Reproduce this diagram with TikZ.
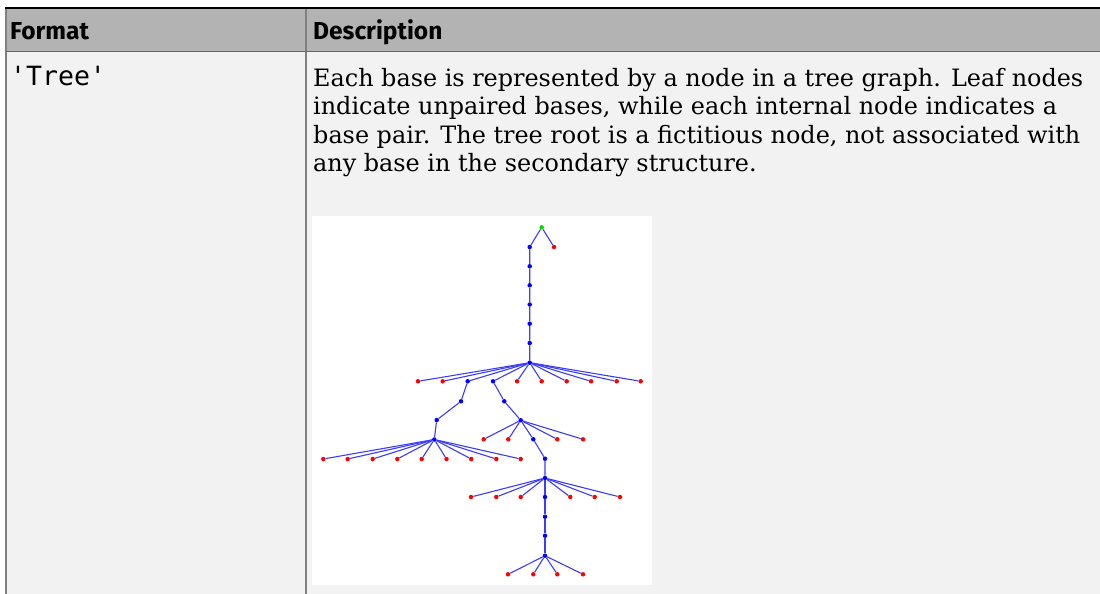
\documentclass[tikz,border=0pt]{standalone}
\usepackage{fontspec}
\setmainfont{DejaVu Serif}
\setsansfont{Fira Sans}
\setmonofont{DejaVu Sans Mono}
\usetikzlibrary{positioning}
\definecolor{hdrgray}{RGB}{179,179,179}
\definecolor{bodygray}{RGB}{242,242,242}
\definecolor{rulegray}{RGB}{128,128,128}
\definecolor{treeblue}{RGB}{60,60,255}
\definecolor{ptgreen}{RGB}{0,220,0}

\begin{document}
\begin{tikzpicture}[x=1pt, y=-1pt,
  leaf/.style={circle, fill=red, inner sep=0pt, minimum size=4.5pt},
  pair/.style={circle, fill=blue, inner sep=0pt, minimum size=4.5pt},
  rootpt/.style={circle, fill=ptgreen, inner sep=0pt, minimum size=4.5pt},
  br/.style={treeblue, line width=1.1pt},
  hdr/.style={anchor=base west, inner sep=0pt, font=\sffamily\bfseries\fontsize{24.5}{24.5}\selectfont},
  txt/.style={anchor=base west, inner sep=0pt, font=\fontsize{23.9}{28}\selectfont}
]
\useasboundingbox (0,0) rectangle (1100,594);

% Table background and rules
\fill[white] (0,0) rectangle (1100,594);
\fill[hdrgray] (6,8) rectangle (1100,52);
\fill[bodygray] (6,52) rectangle (1100,594);
\fill[white] (312,216) rectangle (652,585);
\draw[rulegray, line width=1.5pt] (6,8) -- (6,594);
\draw[rulegray, line width=2pt] (306,8) -- (306,594);
\draw[black!60, line width=1pt] (6,52) -- (1100,52);
\draw[black, line width=1.8pt] (5,8) -- (1100,8);

% Header and text
\node[hdr] (fmt) at (10,40) {Format};
\node[hdr] (dsc) at (313,40) {Description};
\node[anchor=base west, inner sep=0pt, font=\ttfamily\fontsize{26.5}{26.5}\selectfont] (tree) at (10,85) {'Tree'};
\node[txt] (l1) at (313,86) {Each base is represented by a node in a tree graph. Leaf nodes};
\node[txt] (l2) at (313,114.5) {indicate unpaired bases, while each internal node indicates a};
\node[txt] (l3) at (313,143) {base pair. The tree root is a fictitious node, not associated with};
\node[txt] (l4) at (313,171.5) {any base in the secondary structure.};

% Tree: root and stem
\node[rootpt] (rt) at (541.7,227.3) {};
\node[leaf] (rt2) at (554,247) {};
\foreach \i/\y in {1/247,2/266.3,3/285.3,4/304.5,5/323.7,6/343}
  \node[pair] (s\i) at (529.7,\y) {};
\node[pair] (h1) at (529.7,362.7) {};

% first fan
\foreach \i/\x/\s in {1/418/leaf,2/442.7/leaf,3/467.7/pair,4/493/pair,5/517/leaf,
    6/541.7/leaf,7/566.7/leaf,8/591/leaf,9/616.7/leaf,10/640.7/leaf}
  \node[\s] (a\i) at (\x,381.3) {};

% left branch
\node[pair] (b1) at (461,401.3) {};
\node[pair] (b2) at (436.7,420) {};
\node[pair] (h2) at (434.3,439.5) {};
\foreach \i/\x in {1/323.3,2/347.7,3/372.7,4/397.3,5/421.7,6/446.5,7/471.2,8/496.3,9/520.7}
  \node[leaf] (c\i) at (\x,459) {};

% right branch
\node[pair] (d1) at (504.3,401.3) {};
\node[pair] (h3) at (520.7,420.3) {};
\foreach \i/\x/\s in {1/483.7/leaf,2/508.3/leaf,3/533.3/pair,4/557.3/leaf,5/583/leaf}
  \node[\s] (e\i) at (\x,439.3) {};
\node[pair] (f1) at (545,458.7) {};
\node[pair] (h4) at (545,478) {};
\foreach \i/\x/\s in {1/471/leaf,2/496.3/leaf,3/520.7/leaf,4/545/pair,5/570.3/leaf,6/594.7/leaf,7/620/leaf}
  \node[\s] (g\i) at (\x,497) {};
\node[pair] (k1) at (545,516.7) {};
\node[pair] (k2) at (545,535.7) {};
\node[pair] (h5) at (545,555.7) {};
\foreach \i/\x in {1/508,2/533.3,3/557.3,4/583}
  \node[leaf] (m\i) at (\x,574.3) {};

% Branches
\draw[br] (rt) -- (rt2);
\draw[br] (rt) -- (s1) -- (s2) -- (s3) -- (s4) -- (s5) -- (s6) -- (h1);
\foreach \i in {1,...,10} \draw[br] (h1) -- (a\i);
\draw[br] (a3) -- (b1) -- (b2) -- (h2);
\foreach \i in {1,...,9} \draw[br] (h2) -- (c\i);
\draw[br] (a4) -- (d1) -- (h3);
\foreach \i in {1,...,5} \draw[br] (h3) -- (e\i);
\draw[br] (e3) -- (f1) -- (h4);
\foreach \i in {1,...,7} \draw[br] (h4) -- (g\i);
\draw[br] (g4) -- (k1) -- (k2) -- (h5);
\foreach \i in {1,...,4} \draw[br] (h5) -- (m\i);
\end{tikzpicture}
\end{document}
